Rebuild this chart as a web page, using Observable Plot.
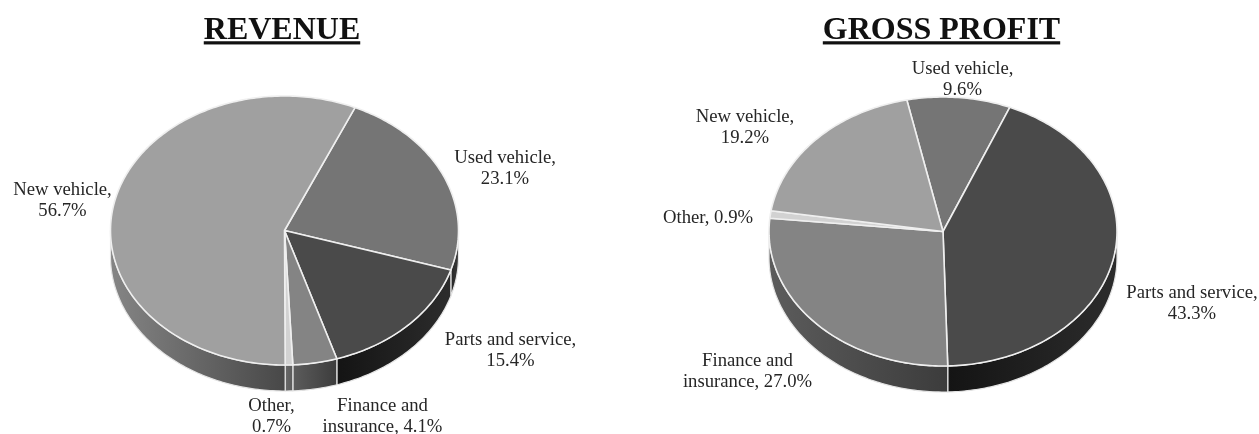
<!DOCTYPE html>
<html>
<head>
<meta charset="utf-8">
<script src="https://cdn.jsdelivr.net/npm/d3@7"></script>
<script src="https://cdn.jsdelivr.net/npm/@observablehq/plot@0.6"></script>
<style>
html,body{margin:0;padding:0;background:#fff;overflow:hidden}
svg{display:block;filter:blur(0.45px)}
</style>
</head>
<body>
<script>
// Data, in the clockwise order of the slices
const categories = ["Used vehicle", "Parts and service", "Finance and insurance", "Other", "New vehicle"];
const revenueValues = [23.1, 15.4, 4.1, 0.7, 56.7];
const grossProfitValues = [9.6, 43.3, 27.0, 0.9, 19.2];
const chartTitles = ["REVENUE", "GROSS PROFIT"];
const revenueLabels = ["Used vehicle,\n23.1%", "Parts and service,\n15.4%", "Finance and\ninsurance, 4.1%", "Other,\n0.7%", "New vehicle,\n56.7%"];
const grossProfitLabels = ["Used vehicle,\n9.6%", "Parts and service,\n43.3%", "Finance and\ninsurance, 27.0%", "Other, 0.9%", "New vehicle,\n19.2%"];

// Layout (not data)
const W = 1259, H = 434;
const rx = 174, ry = 134.5, depth = 26;
const pies = [
  {title: chartTitles[0], values: revenueValues, labels: revenueLabels, cx: 284, cy: 230, start: 23.9, titleX: 281.5,
   labelAt: [[504.5,166],[510,348],[382,414],[271,414],[62,198]]},
  {title: chartTitles[1], values: grossProfitValues, labels: grossProfitLabels, cx: 942.5, cy: 231, start: -12, titleX: 941,
   labelAt: [[962,77],[1191.5,301],[747,369],[707.5,215],[744.5,125]]}
];
const topColors = ["#757575", "#4a4a4a", "#848484", "#d2d2d2", "#a0a0a0"];
const wallStops = [["#262626", "#3a3a3a"], ["#141414", "#2c2c2c"], ["#5c5c5c", "#3c3c3c"], ["#6a6a6a", "#5a5a5a"], ["#858585", "#484848"]];

const rim = (p, deg, dy = 0) => {
  const a = deg * Math.PI / 180;
  return {x: p.cx + rx * Math.sin(a), y: p.cy - ry * Math.cos(a) + dy};
};
const arcAngles = (a0, a1) => {
  const out = [];
  for (let a = a0; a < a1; a += 1) out.push(a);
  out.push(a1);
  return out;
};

const topRows = [], wallRows = [], labelRows = [];
pies.forEach((p, pi) => {
  let from = p.start;
  p.values.forEach((v, i) => {
    const to = from + v * 3.6;
    const cat = categories[i];
    const key = `${pi}-${cat}`;
    topRows.push({key, cat, x: p.cx, y: p.cy});
    arcAngles(from, to).forEach(a => topRows.push({key, cat, ...rim(p, a)}));
    topRows.push({key, cat, x: p.cx, y: p.cy});
    const w0 = Math.max(from, 90), w1 = Math.min(to, 270);
    if (w1 > w0) {
      const wedge = arcAngles(w0, w1);
      const ring = [...wedge.map(a => rim(p, a)), ...wedge.slice().reverse().map(a => rim(p, a, depth))];
      ring.push(ring[0]);
      ring.forEach(pt => wallRows.push({key, cat: cat + " wall", ...pt}));
    }
    labelRows.push({text: p.labels[i], x: p.labelAt[i][0], y: p.labelAt[i][1]});
    from = to;
  });
});

const defs = () => {
  const d = d3.create("svg:defs");
  categories.forEach((c, i) => {
    const g = d.append("linearGradient").attr("id", "wall" + i).attr("x1", 0).attr("x2", 1).attr("y1", 0).attr("y2", 0);
    g.append("stop").attr("offset", "0%").attr("stop-color", wallStops[i][0]);
    g.append("stop").attr("offset", "100%").attr("stop-color", wallStops[i][1]);
  });
  return d.node();
};

const plot = Plot.plot({
  width: W, height: H, margin: 0,
  style: {background: "#fff", overflow: "hidden"},
  x: {domain: [0, W], range: [0, W], axis: null},
  y: {domain: [0, H], range: [0, H], axis: null},
  color: {
    domain: [...categories, ...categories.map(c => c + " wall")],
    range: [...topColors, ...categories.map((c, i) => `url(#wall${i})`)]
  },
  marks: [
    defs,
    Plot.line(wallRows, {x: "x", y: "y", z: "key", fill: "cat", stroke: "#e4e4e4", strokeWidth: 1.2, strokeLinejoin: "round"}),
    Plot.line(topRows, {x: "x", y: "y", z: "key", fill: "cat", stroke: "#efefef", strokeWidth: 1.6, strokeLinejoin: "round"}),
    Plot.text(labelRows, {x: "x", y: "y", text: "text", fontFamily: "Liberation Serif", fontSize: 18.7, lineHeight: 1.17, fill: "#262626"}),
    Plot.text(pies, {
      x: "titleX", y: () => 28.5, text: "title", fontFamily: "Liberation Serif", fontWeight: "bold", fontSize: 32, fill: "#111",
      render(index, scales, values, dims, ctx, next) {
        const g = next(index, scales, values, dims, ctx);
        g.querySelectorAll("text").forEach(t => {
          t.style.textDecoration = "underline";
          t.style.textDecorationThickness = "3px";
          t.style.textUnderlineOffset = "3.5px";
        });
        return g;
      }
    })
  ]
});
document.body.appendChild(plot);
</script>
</body>
</html>
